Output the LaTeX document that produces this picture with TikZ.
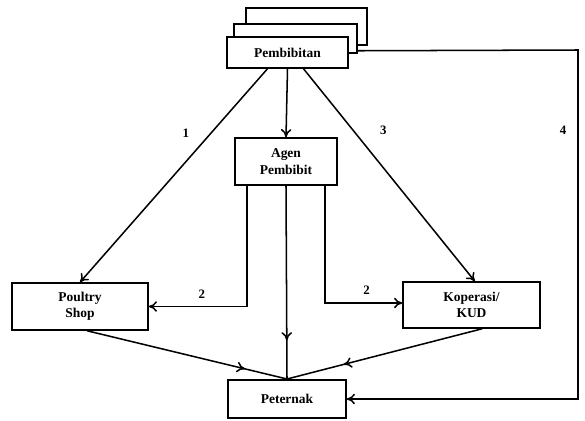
\documentclass[tikz,border=0pt]{standalone}
\usepackage{fontspec}
\setmainfont{Liberation Serif}
\usepackage{tikz}
\usetikzlibrary{positioning, arrows.meta, decorations.markings}
\tikzstyle{line} = [draw, line width=1.3pt, -{To[length=7pt,width=9pt]}]
\tikzstyle{plain} = [draw, line width=1.3pt]
\tikzstyle{block} = [rectangle, draw, fill=white, line width=1.3pt,
    align=center, inner sep=0pt, font=\bfseries\fontsize{11.5}{14}\selectfont]
\tikzstyle{num} = [font=\bfseries\fontsize{11}{13}\selectfont]
\tikzset{midarrow/.style={plain, postaction={decorate},
    decoration={markings, mark=at position #1 with {\arrow{To[length=7pt,width=9pt]}}}}}

\begin{document}
\begin{tikzpicture}[x=0.03cm, y=-0.03cm]
      \useasboundingbox (0,0) rectangle (585,421);
      % Place nodes
      \node [block, minimum width=3.63cm, minimum height=1.11cm] (back) at (306.5,26.5) {};
      \node [block, minimum width=3.69cm, minimum height=0.87cm] (mid) at (295.5,38.5) {};
      \node [block, minimum width=3.63cm, minimum height=0.93cm] (pemb) at (287.5,52.5) {Pembibitan};
      \node [block, minimum width=3.06cm, minimum height=1.41cm] (agen) at (286,161.5) {Agen\\Pembibit};
      \node [block, minimum width=4.08cm, minimum height=1.41cm] (ps) at (80,306.5) {Poultry\\Shop};
      \node [block, minimum width=4.11cm, minimum height=1.38cm] (kud) at (471.5,305) {Koperasi/\\KUD};
      \node [block, minimum width=3.54cm, minimum height=1.14cm] (pet) at (287,399) {Peternak};
      \coordinate (meet) at (287,379);
      \coordinate (c4) at (578,50);

      % Connectors
      \path [line] ([xshift=-0.6cm]pemb.south) -- node[num, pos=0.3, left=15pt] {1} (ps.north);
      \path [line] (pemb.south) -- (agen.north);
      \path [line] ([xshift=0.48cm]pemb.south) -- node[num, pos=0.29, right=19pt] {3} ([xshift=0.1cm]kud.north);
      \path [line] ([yshift=0.09cm]mid.south east) -- (c4) |- node[num, pos=0.115, left=6pt] {4} (pet.east);

      \path [line] ([xshift=-1.17cm]agen.south) |- node[num, pos=0.73, above=3pt] {2} (ps.east);
      \path [line] ([xshift=1.17cm]agen.south) |- node[num, pos=0.77, above=3pt] {2} ([yshift=0.06cm]kud.west);

      \draw [midarrow=0.8] (agen.south) -- (meet);
      \draw [midarrow=0.79] ([xshift=0.21cm]ps.south) -- (meet);
      \draw [midarrow=0.71] ([xshift=0.32cm]kud.south) -- (meet);
    \end{tikzpicture}
\end{document}
